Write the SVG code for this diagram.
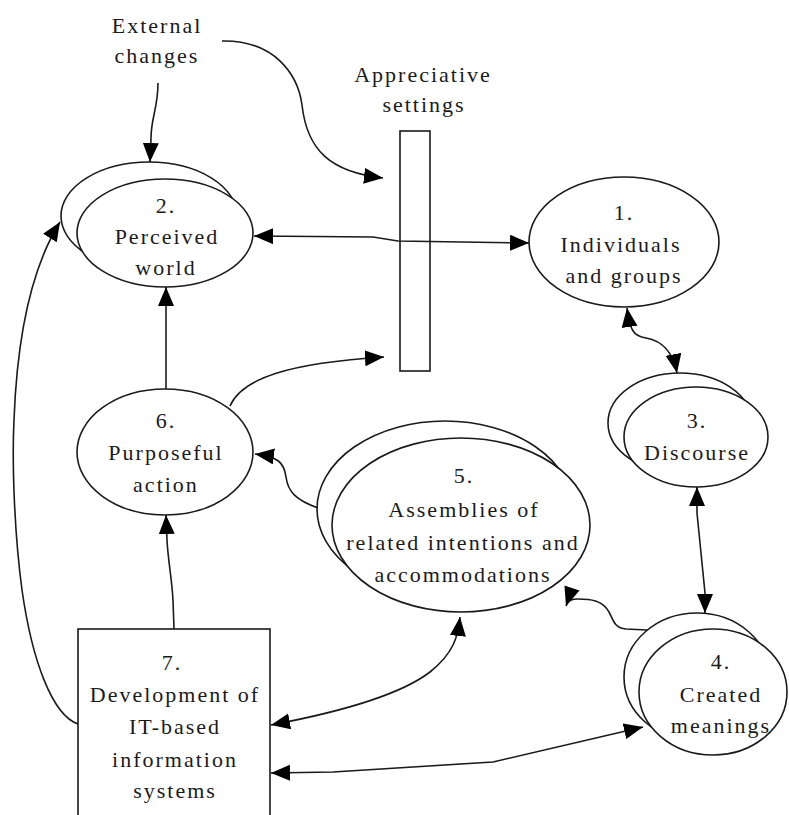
<svg xmlns="http://www.w3.org/2000/svg" width="789" height="815" viewBox="0 0 789 815">
  <style>
    .shape { fill: #ffffff; stroke: #1a1a1a; stroke-width: 1.6; }
    .link { fill: none; stroke: #1a1a1a; stroke-width: 1.6; }
    .lbl { font-family: "Liberation Serif", "Times New Roman", serif; font-size: 22px; letter-spacing: 2px; fill: #1a1a1a; text-anchor: middle; }
  </style>
  <defs>
    <marker id="head" markerUnits="userSpaceOnUse" markerWidth="20" markerHeight="17" refX="19" refY="8" orient="auto-start-reverse">
      <path d="M0,0 L19,8 L0,16 z" fill="#000000"/>
    </marker>
  </defs>
  <rect x="0" y="0" width="789" height="815" fill="#ffffff"/>

  <!-- free labels -->
  <g id="external-changes">
    <text class="lbl" x="157" y="33">External</text>
    <text class="lbl" x="157" y="63">changes</text>
  </g>

  <g id="appreciative-settings">
    <text class="lbl" x="423" y="82">Appreciative</text>
    <text class="lbl" x="424" y="112">settings</text>
    <rect class="shape" x="400" y="131" width="30" height="240"/>
  </g>

  <!-- 1. Individuals and groups -->
  <g id="node-1">
    <ellipse class="shape" cx="624" cy="242" rx="95" ry="65"/>
    <text class="lbl" x="624" y="220">1.</text>
    <text class="lbl" x="621" y="252">Individuals</text>
    <text class="lbl" x="624" y="283">and groups</text>
  </g>

  <!-- 2. Perceived world -->
  <g id="node-2">
    <ellipse class="shape" cx="149" cy="216" rx="88" ry="54"/>
    <ellipse class="shape" cx="165" cy="233" rx="88" ry="54"/>
    <text class="lbl" x="166" y="213">2.</text>
    <text class="lbl" x="167" y="244">Perceived</text>
    <text class="lbl" x="166" y="275">world</text>
  </g>

  <!-- 3. Discourse -->
  <g id="node-3">
    <ellipse class="shape" cx="680" cy="423" rx="72" ry="50"/>
    <ellipse class="shape" cx="696" cy="437" rx="72" ry="50"/>
    <text class="lbl" x="697" y="428">3.</text>
    <text class="lbl" x="697" y="460">Discourse</text>
  </g>

  <!-- 4. Created meanings -->
  <g id="node-4">
    <ellipse class="shape" cx="697" cy="677" rx="73" ry="64"/>
    <ellipse class="shape" cx="713" cy="692" rx="74" ry="63"/>
    <text class="lbl" x="721" y="669">4.</text>
    <text class="lbl" x="721" y="702">Created</text>
    <text class="lbl" x="721" y="733">meanings</text>
  </g>

  <!-- 5. Assemblies of related intentions and accommodations -->
  <g id="node-5">
    <ellipse class="shape" cx="445" cy="509" rx="128" ry="88"/>
    <ellipse class="shape" cx="461" cy="525" rx="129" ry="87"/>
    <text class="lbl" x="464" y="483">5.</text>
    <text class="lbl" x="464" y="517">Assemblies of</text>
    <text class="lbl" x="463" y="550">related intentions and</text>
    <text class="lbl" x="463" y="582">accommodations</text>
  </g>

  <!-- 6. Purposeful action -->
  <g id="node-6">
    <ellipse class="shape" cx="165" cy="452" rx="88" ry="63"/>
    <text class="lbl" x="166" y="428">6.</text>
    <text class="lbl" x="166" y="460">Purposeful</text>
    <text class="lbl" x="166" y="492">action</text>
  </g>

  <!-- 7. Development of IT-based information systems -->
  <g id="node-7">
    <rect class="shape" x="78" y="629" width="192" height="200"/>
    <text class="lbl" x="172" y="670">7.</text>
    <text class="lbl" x="175" y="702">Development of</text>
    <text class="lbl" x="175" y="734">IT-based</text>
    <text class="lbl" x="175" y="767">information</text>
    <text class="lbl" x="175" y="798">systems</text>
  </g>

  <!-- connectors -->
  <g id="connectors">
    <!-- external changes feed the perceived world -->
    <path class="link" d="M158,83 C158,108 151,118 151,138 L150,162" marker-end="url(#head)"/>
    <!-- external changes shift the appreciative settings -->
    <path class="link" d="M222,41 C275,40 298,75 302,105 C307,150 330,172 383,178" marker-end="url(#head)"/>
    <!-- perceived world through appreciative settings to individuals -->
    <path class="link" d="M254,236 L373,237 L398,241 L529,243" marker-start="url(#head)" marker-end="url(#head)"/>
    <!-- individuals and discourse -->
    <path class="link" d="M627,308 C630,330 633,336 646,338 C663,341 673,352 677,373" marker-start="url(#head)" marker-end="url(#head)"/>
    <!-- discourse and created meanings -->
    <path class="link" d="M697,487 L697,513 L705,593 L705,613" marker-start="url(#head)" marker-end="url(#head)"/>
    <!-- created meanings feed assemblies -->
    <path class="link" d="M647,630 L626,629 C612,628 613,616 607,609 C601,601 592,599 578,599 C572,599 568,600 566,606" marker-end="url(#head)"/>
    <!-- assemblies inform purposeful action -->
    <path class="link" d="M318,508 C296,500 288,492 286,477 C284,462 278,457 255,454" marker-end="url(#head)"/>
    <!-- purposeful action changes the perceived world -->
    <path class="link" d="M166,389 L166,287" marker-end="url(#head)"/>
    <!-- purposeful action shifts appreciative settings -->
    <path class="link" d="M230,406 C242,378 290,363 384,357" marker-end="url(#head)"/>
    <!-- IT development supports purposeful action -->
    <path class="link" d="M174,629 L173,600 C172,580 168,560 167,540 L166,515" marker-end="url(#head)"/>
    <!-- IT development loops back to the perceived world -->
    <path class="link" d="M78,724 C52,715 32,660 22,590 C14,530 12,460 14,420 C17,340 30,270 60,222" marker-end="url(#head)"/>
    <!-- IT development and assemblies -->
    <path class="link" d="M271,725 C340,712 400,695 430,672 C455,652 458,635 460,617" marker-start="url(#head)" marker-end="url(#head)"/>
    <!-- IT development and created meanings -->
    <path class="link" d="M271,773 L333,772 L493,762 L643,727" marker-start="url(#head)" marker-end="url(#head)"/>
  </g>
</svg>
